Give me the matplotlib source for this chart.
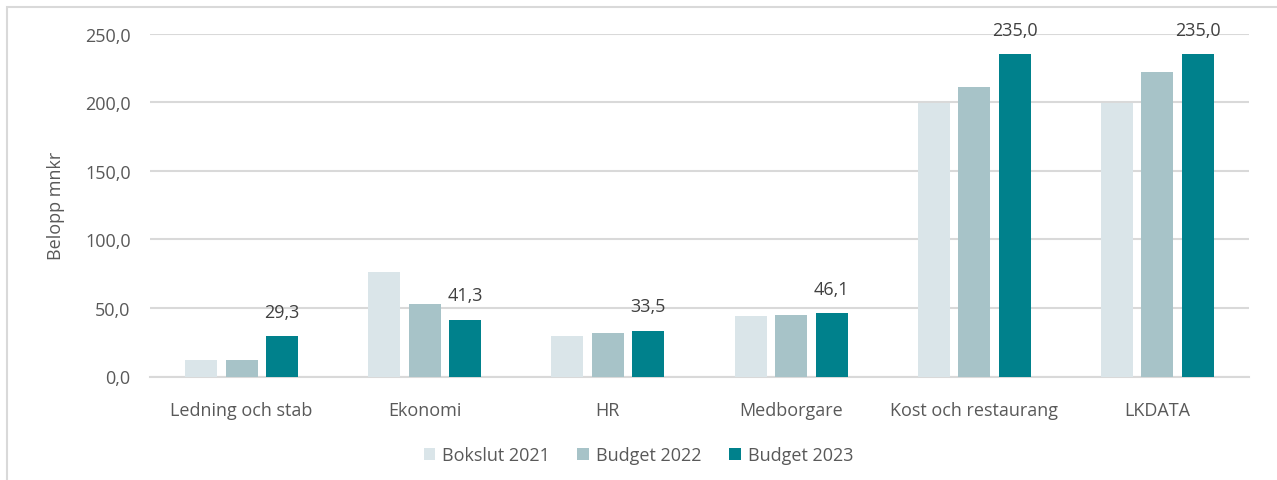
import numpy as np
import matplotlib.pyplot as plt
from matplotlib.patches import Rectangle

categories = ['Ledning och stab', 'Ekonomi', 'HR', 'Medborgare', 'Kost och restaurang', 'LKDATA']
bokslut_2021 = [12.0, 76.2, 29.5, 44.1, 199.7, 199.7]
budget_2022 = [12.0, 52.9, 31.7, 44.9, 211.2, 222.1]
budget_2023 = [29.3, 41.3, 33.5, 46.1, 235.0, 235.0]
series_names = ['Bokslut 2021', 'Budget 2022', 'Budget 2023']
colors = ['#dae5e9', '#a7c3c8', '#00818c']

plt.rcParams['font.family'] = ['Open Sans', 'DejaVu Sans']
txt = '#595959'
fs = 13

fig = plt.figure(figsize=(12.77, 4.81), dpi=100)
ax = fig.add_axes([150 / 1277, 1 - 377.5 / 481, 1099 / 1277, (377.5 - 34.7) / 481])

# frame round the chart area (cut off at right/bottom like the reference)
fig.patches.append(Rectangle((7 / 1277, -0.1), 1.2, 1 - 8 / 481 + 0.1,
                             transform=fig.transFigure, fill=False,
                             edgecolor='#d9d9d9', linewidth=1.5))

x = np.arange(len(categories))
w = 0.175
step = 0.221
for i, (vals, name, c) in enumerate(zip([bokslut_2021, budget_2022, budget_2023], series_names, colors)):
    bars = ax.bar(x + (i - 1) * step, vals, width=w, color=c, label=name, zorder=3)
    if i == 2:
        for b, v in zip(bars, vals):
            ax.annotate(f'{v:.1f}'.replace('.', ','), (b.get_x() + b.get_width() / 2, v),
                        xytext=(0, 14), textcoords='offset points',
                        ha='center', va='baseline', fontsize=fs, color='#404040')

ax.set_ylim(0, 250)
ax.set_xlim(-0.5, len(categories) - 0.5)
ax.set_yticks(np.arange(0, 251, 50))
ax.set_yticklabels([f'{v:.1f}'.replace('.', ',') for v in np.arange(0, 251, 50)])
ax.set_xticks(x)
ax.set_xticklabels(categories)
ax.tick_params(axis='both', length=0, labelsize=fs, labelcolor=txt)
ax.tick_params(axis='y', pad=14)
ax.tick_params(axis='x', pad=18)
ax.grid(axis='y', color='#d9d9d9', linewidth=1.5, zorder=0)
for s in ['top', 'right', 'left']:
    ax.spines[s].set_visible(False)
ax.spines['bottom'].set_color('#d9d9d9')
ax.spines['bottom'].set_linewidth(1.5)
ax.set_ylabel('Belopp mnkr', fontsize=fs, color=txt, labelpad=14)

fig.legend(loc='center', bbox_to_anchor=(0.5, 1 - 456 / 481), ncol=3, frameon=False,
           fontsize=fs, labelcolor=txt, handlelength=0.65, handleheight=0.65,
           handletextpad=0.4, columnspacing=1.5)

fig.savefig('out.png', dpi=100)
